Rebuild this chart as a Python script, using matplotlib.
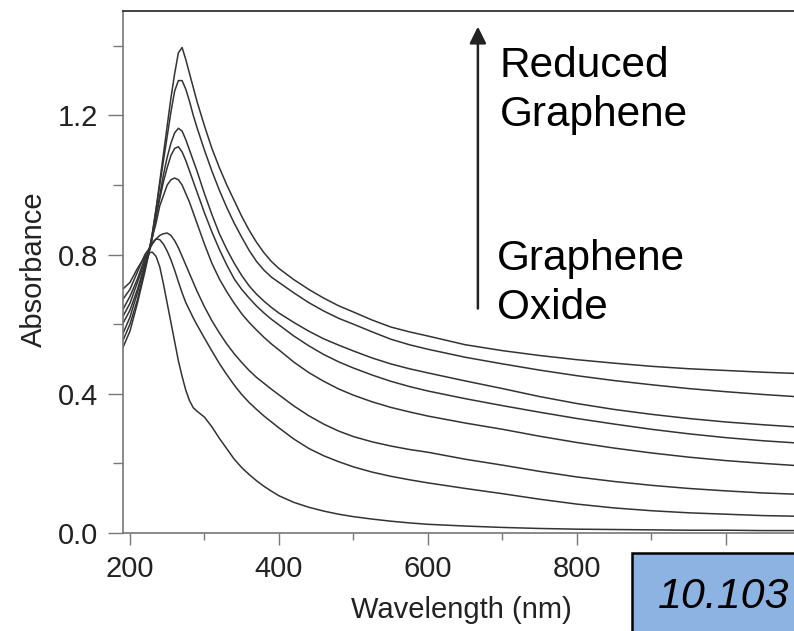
import numpy as np
import matplotlib.pyplot as plt
from matplotlib.patches import Rectangle
from matplotlib.ticker import MultipleLocator, FormatStrFormatter

plt.rcParams['font.family'] = ['Liberation Sans', 'DejaVu Sans']

# wavelength grid (nm) shared by all spectra
wavelength = [190, 200, 210, 220, 225, 230, 235, 240, 245, 250, 255, 260, 265, 270, 275, 280, 285, 290,
              300, 310, 320, 330, 340, 350, 360, 370, 380, 390, 400,
              420, 440, 460, 480, 500, 525, 550, 575, 600,
              650, 700, 750, 800, 850, 900, 950, 1000, 1050, 1100]

# absorbance, most reduced first, graphene oxide last
abs_1 = [0.53, 0.58, 0.66, 0.75, 0.80, 0.86, 0.93, 1.01, 1.09, 1.17, 1.25, 1.32, 1.38, 1.395, 1.36, 1.32, 1.28, 1.24,
         1.17, 1.105, 1.05, 1.00, 0.955, 0.91, 0.87, 0.835, 0.805, 0.78, 0.76,
         0.728, 0.70, 0.675, 0.653, 0.635, 0.612, 0.592, 0.578, 0.566,
         0.541, 0.524, 0.51, 0.498, 0.488, 0.479, 0.472, 0.467, 0.462, 0.458]
abs_2 = [0.55, 0.60, 0.67, 0.76, 0.80, 0.86, 0.93, 1.00, 1.07, 1.14, 1.21, 1.27, 1.30, 1.30, 1.275, 1.24, 1.20, 1.165,
         1.10, 1.04, 0.985, 0.935, 0.89, 0.85, 0.812, 0.78, 0.755, 0.735, 0.72,
         0.69, 0.662, 0.638, 0.617, 0.60, 0.578, 0.557, 0.541, 0.528,
         0.505, 0.486, 0.468, 0.452, 0.438, 0.426, 0.415, 0.406, 0.398, 0.391]
abs_3 = [0.57, 0.62, 0.69, 0.77, 0.80, 0.85, 0.91, 0.97, 1.03, 1.08, 1.12, 1.15, 1.163, 1.155, 1.13, 1.10, 1.07, 1.04,
         0.975, 0.915, 0.86, 0.815, 0.775, 0.74, 0.71, 0.686, 0.666, 0.648, 0.632,
         0.605, 0.58, 0.558, 0.54, 0.523, 0.503, 0.486, 0.472, 0.46,
         0.437, 0.415, 0.392, 0.372, 0.355, 0.341, 0.329, 0.319, 0.311, 0.304]
abs_4 = [0.60, 0.64, 0.70, 0.77, 0.80, 0.85, 0.91, 0.96, 1.01, 1.05, 1.085, 1.105, 1.11, 1.095, 1.07, 1.04, 1.01, 0.98,
         0.92, 0.865, 0.815, 0.77, 0.73, 0.70, 0.675, 0.652, 0.632, 0.614, 0.598,
         0.566, 0.538, 0.513, 0.492, 0.474, 0.454, 0.436, 0.421, 0.408,
         0.386, 0.366, 0.347, 0.329, 0.313, 0.298, 0.285, 0.274, 0.265, 0.258]
abs_5 = [0.62, 0.66, 0.72, 0.78, 0.81, 0.85, 0.89, 0.94, 0.97, 1.00, 1.015, 1.02, 1.015, 1.00, 0.975, 0.95, 0.92, 0.89,
         0.83, 0.775, 0.73, 0.693, 0.66, 0.63, 0.605, 0.583, 0.562, 0.543, 0.526,
         0.491, 0.461, 0.436, 0.414, 0.396, 0.377, 0.361, 0.348, 0.336,
         0.316, 0.298, 0.278, 0.26, 0.244, 0.23, 0.218, 0.208, 0.20, 0.193]
abs_6 = [0.64, 0.68, 0.73, 0.79, 0.81, 0.83, 0.845, 0.855, 0.86, 0.862, 0.855, 0.84, 0.82, 0.795, 0.77, 0.745, 0.72, 0.695,
         0.65, 0.61, 0.575, 0.543, 0.515, 0.49, 0.467, 0.447, 0.43, 0.413, 0.397,
         0.365, 0.337, 0.313, 0.293, 0.277, 0.262, 0.25, 0.24, 0.232,
         0.212, 0.195, 0.177, 0.161, 0.148, 0.137, 0.128, 0.121, 0.115, 0.111]
abs_7 = [0.67, 0.70, 0.75, 0.80, 0.815, 0.835, 0.845, 0.843, 0.83, 0.81, 0.785, 0.755, 0.722, 0.69, 0.662, 0.64, 0.618, 0.598,
         0.56, 0.523, 0.487, 0.455, 0.425, 0.398, 0.375, 0.355, 0.336, 0.319, 0.302,
         0.27, 0.243, 0.222, 0.205, 0.19, 0.175, 0.163, 0.153, 0.144,
         0.128, 0.113, 0.097, 0.083, 0.072, 0.064, 0.058, 0.054, 0.05, 0.048]
abs_8 = [0.70, 0.72, 0.76, 0.795, 0.805, 0.807, 0.795, 0.765, 0.715, 0.66, 0.605, 0.55, 0.495, 0.45, 0.41, 0.38, 0.36, 0.35,
         0.333, 0.305, 0.272, 0.242, 0.212, 0.188, 0.168, 0.15, 0.134, 0.12, 0.107,
         0.088, 0.074, 0.063, 0.054, 0.047, 0.04, 0.034, 0.029, 0.025,
         0.02, 0.016, 0.013, 0.011, 0.01, 0.009, 0.008, 0.008, 0.007, 0.007]

spectra = [abs_1, abs_2, abs_3, abs_4, abs_5, abs_6, abs_7, abs_8]

x_ticks = [200, 400, 600, 800, 1000]
x_labels = ['200', '400', '600', '800', '']  # 1000 is hidden under the doi box

fig = plt.figure(figsize=(7.94, 6.31), dpi=100)
ax = fig.add_axes([122.5 / 794, 98 / 631, 678 / 794, 522 / 631])

for s in spectra:
    ax.plot(wavelength, s, color='#333333', lw=1.1)

ax.set_xlim(190, 1100)
ax.set_ylim(0, 1.5)

ax.set_xticks(x_ticks)
ax.set_xticklabels(x_labels)
ax.xaxis.set_minor_locator(MultipleLocator(100))
ax.yaxis.set_major_locator(MultipleLocator(0.4))
ax.yaxis.set_minor_locator(MultipleLocator(0.2))
ax.yaxis.set_major_formatter(FormatStrFormatter('%.1f'))

for side in ['left', 'bottom']:
    ax.spines[side].set_color('#777777')
    ax.spines[side].set_linewidth(1.2)
ax.spines['top'].set_color('#222222')
ax.spines['top'].set_linewidth(1.2)
ax.spines['right'].set_visible(False)

ax.tick_params(axis='y', which='major', length=10.8, width=1, color='#777777', pad=7,
               labelsize=21, labelcolor='#222222')
ax.tick_params(axis='y', which='minor', length=7.2, width=1, color='#777777')
ax.tick_params(axis='x', which='major', length=8.6, width=1, color='#777777', pad=7,
               labelsize=21, labelcolor='#222222')
ax.tick_params(axis='x', which='minor', length=5, width=1, color='#777777')

ax.set_ylabel('Absorbance', fontsize=21, color='#222222')
ax.yaxis.set_label_coords(-0.11, 0.505)
ax.set_xlabel('Wavelength (nm)', fontsize=21, color='#222222')
ax.xaxis.set_label_coords(0.5, -0.12)

# reduction arrow and labels
ax.annotate('', xy=(667, 1.455), xytext=(667, 0.645),
            arrowprops=dict(arrowstyle='-|>', color='#222222', lw=1.8,
                            mutation_scale=25, shrinkA=0, shrinkB=0))
ax.text(696.6, 1.40, 'Reduced\nGraphene', fontsize=30.5, va='top', ha='left', linespacing=1.3)
ax.text(692.6, 0.845, 'Graphene\nOxide', fontsize=30.5, va='top', ha='left', linespacing=1.3)

# doi box in the corner
fig.add_artist(Rectangle((632 / 794, -0.05), 0.5, 0.05 + 78 / 631, transform=fig.transFigure,
                         facecolor='#8DB3E2', edgecolor='black', lw=1.8, clip_on=False))
fig.text(658 / 794, 23 / 631, '10.103', fontsize=31, style='italic', va='baseline', ha='left')

fig.savefig('out.png', dpi=100, facecolor='white')
